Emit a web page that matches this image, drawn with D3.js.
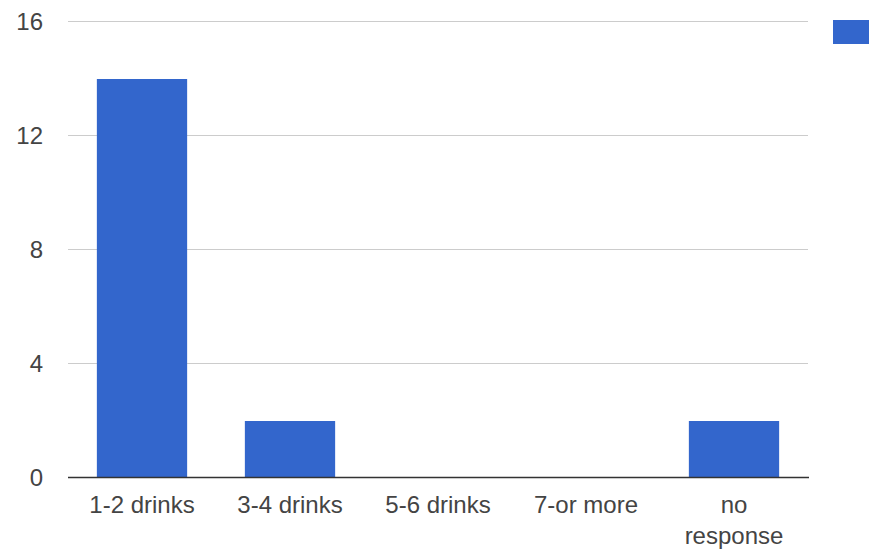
<!DOCTYPE html>
<html><head><meta charset="utf-8">
<script src="https://cdn.jsdelivr.net/npm/d3@7"></script>
<style>body{margin:0;background:#fff}svg{display:block}</style>
</head><body>
<svg id="c" width="869" height="549"></svg>
<script>
const categories = ["1-2 drinks","3-4 drinks","5-6 drinks","7-or more","no response"];
const values = [14, 2, 0, 0, 2];
const yTicks = [0, 4, 8, 12, 16];

(function () {
const svg = d3.select("#c");
const pLeft = 68, pRight = 808, pTop = 21, pBottom = 477;
const x = d3.scaleBand().domain(categories).range([pLeft, pRight]).paddingInner(0.39).paddingOuter(0.195);
const y = d3.scaleLinear().domain([0, 16]).range([pBottom, pTop]);
const font = "Arial, 'Liberation Sans', sans-serif";

// gridlines
svg.append("g").selectAll("line").data(yTicks.filter(d => d !== 0)).join("line")
  .attr("x1", pLeft).attr("x2", pRight)
  .attr("y1", d => y(d) + 0.5).attr("y2", d => y(d) + 0.5)
  .attr("stroke", "#cccccc").attr("stroke-width", 1);

// y labels
svg.append("g").selectAll("text").data(yTicks).join("text")
  .attr("x", 43).attr("y", d => y(d)).attr("dy", "0.36em")
  .attr("text-anchor", "end").attr("font-family", font).attr("font-size", 24)
  .attr("fill", "#444").text(d => d);

// bars
svg.append("g").selectAll("rect").data(categories).join("rect")
  .attr("x", d => x(d)).attr("width", x.bandwidth())
  .attr("y", (d, i) => y(values[i]) + 1).attr("height", (d, i) => Math.max(0, y(0) - y(values[i]) - 1))
  .attr("fill", "#3366cc");

// baseline
svg.append("line").attr("x1", pLeft).attr("x2", pRight + 1)
  .attr("y1", pBottom + 0.5).attr("y2", pBottom + 0.5)
  .attr("stroke", "#333").attr("stroke-width", 1.5);

// x labels
const xl = svg.append("g").selectAll("text").data(categories).join("text")
  .attr("x", d => x(d) + x.bandwidth() / 2).attr("y", 513)
  .attr("text-anchor", "middle").attr("font-family", font).attr("font-size", 24)
  .attr("fill", "#444");
xl.each(function(d) {
  const t = d3.select(this);
  const parts = d === "no response" ? ["no", "response"] : [d];
  parts.forEach((p, i) => t.append("tspan").attr("x", x(d) + x.bandwidth() / 2).attr("dy", i ? 31 : 0).text(p));
});

// legend swatch (clipped by frame)
svg.append("rect").attr("x", 833).attr("y", 20).attr("width", 40).attr("height", 24).attr("fill", "#3366cc");
})();
</script>
</body></html>
